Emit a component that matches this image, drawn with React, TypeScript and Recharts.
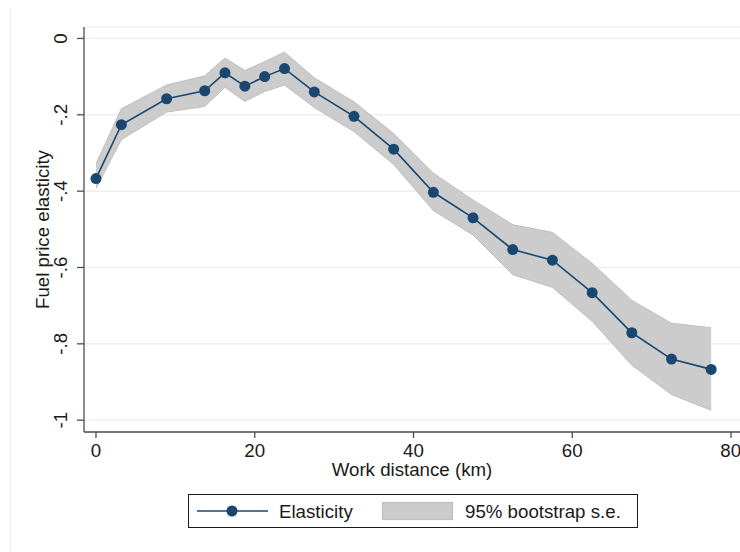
import React from "react";
import {
  ComposedChart,
  Area,
  Line,
  XAxis,
  YAxis,
  CartesianGrid,
  Label,
} from "recharts";

// Work distance bins (km)
const distance = [0, 3.2, 8.9, 13.7, 16.25, 18.75, 21.25, 23.75, 27.5, 32.5, 37.5, 42.5, 47.5, 52.5, 57.5, 62.5, 67.5, 72.5, 77.5];
// Estimated fuel price elasticity
const elasticity = [-0.367, -0.226, -0.158, -0.137, -0.09, -0.125, -0.1, -0.079, -0.14, -0.204, -0.29, -0.403, -0.47, -0.553, -0.581, -0.666, -0.771, -0.84, -0.867];
// 95% bootstrap band
const upper = [-0.328, -0.184, -0.122, -0.098, -0.051, -0.084, -0.061, -0.036, -0.103, -0.166, -0.249, -0.353, -0.423, -0.488, -0.508, -0.589, -0.686, -0.746, -0.758];
const lower = [-0.393, -0.265, -0.193, -0.178, -0.128, -0.165, -0.139, -0.122, -0.181, -0.244, -0.33, -0.451, -0.515, -0.619, -0.652, -0.741, -0.856, -0.933, -0.974];

const xTicks = [0, 20, 40, 60, 80];
const yTicks = [-1, -0.8, -0.6, -0.4, -0.2, 0];

const data = distance.map((d, i) => ({
  distance: d,
  elasticity: elasticity[i],
  band: [lower[i], upper[i]],
}));

const NAVY = "#1a476f";
const BAND = "#cccccc";
const BAND_EDGE = "#bfbfbf";
const FONT = "'Liberation Sans', Arial, Helvetica, sans-serif";
const FS = 18.7;

// Stata-style number format: -.2, -1, 0
const fmtY = (v: number) => {
  if (Math.abs(v) < 1e-9) return "0";
  const r = Math.round(v * 10) / 10;
  if (Number.isInteger(r)) return String(r);
  return String(r).replace("0.", ".");
};

const YTick = (props: any) => {
  const { x, y, payload } = props;
  return (
    <text
      x={x}
      y={y}
      transform={`rotate(-90, ${x}, ${y})`}
      textAnchor="middle"
      fontFamily={FONT}
      fontSize={FS}
      fill="#1a1a1a"
    >
      {fmtY(payload.value)}
    </text>
  );
};

const YTitle = (props: any) => {
  const { viewBox } = props;
  const cx = 48.5;
  const cy = viewBox.y + viewBox.height / 2;
  return (
    <text
      x={cx}
      y={cy}
      transform={`rotate(-90, ${cx}, ${cy})`}
      textAnchor="middle"
      fontFamily={FONT}
      fontSize={FS}
      fill="#1a1a1a"
    >
      Fuel price elasticity
    </text>
  );
};

const ChartLegend = () => (
  <svg
    width={740}
    height={552}
    style={{ position: "absolute", left: 0, top: 0, pointerEvents: "none" }}
  >
    <rect x={188.5} y={494.5} width={449} height={33} fill="#ffffff" stroke="#1a1a1a" strokeWidth={1} />
    <line x1={197} y1={511} x2={268} y2={511} stroke={NAVY} strokeWidth={1.5} />
    <circle cx={232} cy={511} r={5.5} fill={NAVY} />
    <text x={279} y={518} fontFamily={FONT} fontSize={FS} fill="#1a1a1a">
      Elasticity
    </text>
    <rect x={382.5} y={502.5} width={70} height={17} fill={BAND} stroke={BAND_EDGE} strokeWidth={1.2} />
    <text x={465} y={518} fontFamily={FONT} fontSize={FS} fill="#1a1a1a">
      95% bootstrap s.e.
    </text>
  </svg>
);

export default function App() {
  return (
    <div style={{ position: "absolute", left: 0, top: 0, width: 740, height: 552, background: "#ffffff" }}>
      <div style={{ position: "absolute", left: 10, top: 7, width: 1, height: 545, background: "#eef2f4" }} />
      <ComposedChart
        width={740}
        height={552}
        data={data}
        margin={{ top: 27, right: 0, bottom: 0, left: 0 }}
      >
        <CartesianGrid horizontal vertical={false} stroke="#e6eef1" strokeWidth={1.2} />
        <XAxis
          dataKey="distance"
          type="number"
          domain={[-1.51, 81.13]}
          ticks={xTicks}
          allowDataOverflow
          height={120}
          tickSize={6}
          tickMargin={6}
          stroke="#4d4d4d"
          strokeWidth={1.3}
          tick={{ fontFamily: FONT, fontSize: FS, fill: "#1a1a1a" }}
        >
          <Label
            value="Work distance (km)"
            position="insideTop"
            offset={31}
            style={{ fontFamily: FONT, fontSize: FS, fill: "#1a1a1a" }}
          />
        </XAxis>
        <YAxis
          type="number"
          domain={[-1.031, 0.03]}
          ticks={yTicks}
          allowDataOverflow
          width={84}
          tickSize={7}
          tickMargin={10}
          stroke="#4d4d4d"
          strokeWidth={1.3}
          tick={<YTick />}
        >
          <Label content={<YTitle />} />
        </YAxis>
        <Area
          dataKey="band"
          type="linear"
          fill={BAND}
          fillOpacity={1}
          stroke={BAND_EDGE}
          strokeWidth={1}
          isAnimationActive={false}
          activeDot={false}
        />
        <Line
          dataKey="elasticity"
          type="linear"
          stroke={NAVY}
          strokeWidth={1.6}
          dot={{ r: 5.5, fill: NAVY, stroke: NAVY, strokeWidth: 0 }}
          activeDot={false}
          isAnimationActive={false}
        />
      </ComposedChart>
      <ChartLegend />
    </div>
  );
}
